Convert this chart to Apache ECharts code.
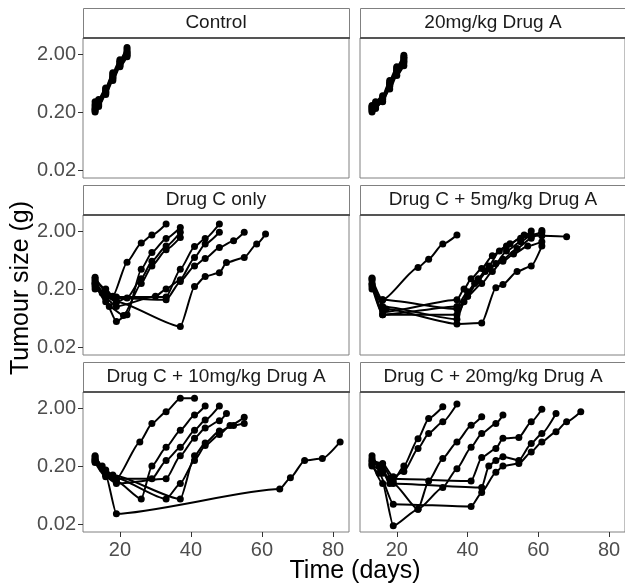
<!DOCTYPE html>
<html><head><meta charset="utf-8">
<script src="https://cdn.jsdelivr.net/npm/echarts@6/dist/echarts.min.js"></script>
<style>html,body{margin:0;padding:0;background:#fff}#c{width:625px;height:585px}</style>
</head><body><div id="c"></div>
<script>
// ---- data: each mouse = list of [day, tumour size (g)] ----
const panelTitles = ["Control", "20mg/kg Drug A", "Drug C only", "Drug C + 5mg/kg Drug A", "Drug C + 10mg/kg Drug A", "Drug C + 20mg/kg Drug A"];

const control = [
  [[13,0.21],[14,0.26],[16,0.42],[18,0.75],[20,1.3],[22,1.9]],
  [[13,0.23],[14,0.28],[16,0.45],[18,0.8],[20,1.4],[22,2.1]],
  [[13,0.25],[14,0.30],[16,0.48],[18,0.85],[20,1.5],[22,2.4]],
  [[13,0.27],[14,0.31],[16,0.50],[18,0.9],[20,1.45],[22,2.2]],
  [[13,0.20],[14,0.25],[16,0.40],[18,0.7],[20,1.2],[22,1.8]],
  [[13,0.30],[14,0.33],[16,0.52],[18,0.95],[20,1.6],[22,2.6]],
  [[13,0.22],[14,0.27],[16,0.44],[18,0.78],[20,1.25],[22,2.0]]
];

const drugA20 = [
  [[13,0.20],[14,0.24],[16,0.30],[18,0.55],[20,0.95],[22,1.4]],
  [[13,0.22],[14,0.25],[16,0.33],[18,0.60],[20,1.05],[22,1.6]],
  [[13,0.24],[14,0.28],[16,0.35],[18,0.65],[20,1.1],[22,1.75]],
  [[13,0.26],[14,0.30],[16,0.38],[18,0.70],[20,1.2],[22,1.9]],
  [[13,0.21],[14,0.23],[16,0.31],[18,0.50],[20,0.85],[22,1.25]],
  [[13,0.25],[14,0.27],[16,0.36],[18,0.62],[20,1.0],[22,1.5]],
  [[13,0.23],[14,0.26],[16,0.34],[18,0.58],[20,1.15],[22,1.7]]
];

const drugC = [
  [[13,0.30],[16,0.20],[18,0.15],[22,0.58],[26,1.24],[29,1.70],[33,2.65]],
  [[13,0.25],[16,0.12],[19,0.055],[22,0.072],[26,0.44],[29,0.85],[33,1.49],[37,2.3]],
  [[13,0.22],[16,0.15],[19,0.12],[22,0.14],[26,0.30],[29,0.60],[33,1.1],[37,1.9]],
  [[13,0.20],[15,0.17],[17,0.10],[21,0.07],[26,0.25],[29,0.50],[33,0.95],[37,1.55]],
  [[13,0.28],[16,0.15],[19,0.146],[33,0.146],[37,0.44],[41,1.08],[44,1.49],[48,2.65]],
  [[13,0.24],[16,0.14],[19,0.10],[30,0.15],[33,0.20],[37,0.29],[41,0.70],[44,1.19],[48,1.9]],
  [[13,0.26],[16,0.16],[19,0.14],[33,0.13],[37,0.27],[41,0.50],[44,0.67],[48,1.04],[52,1.36],[55,1.9]],
  [[13,0.32],[16,0.18],[19,0.12],[37,0.045],[41,0.22],[44,0.33],[48,0.38],[50,0.57],[55,0.70],[58.5,1.19],[61,1.77]]
];

const drugC5 = [
  [[13,0.30],[16,0.13],[26,0.47],[29,0.65],[33,1.19],[37,1.70]],
  [[13,0.28],[16,0.08],[37,0.13],[39,0.20],[41,0.30],[44,0.45],[47,0.75],[51,1.1],[55,1.5],[58,2.0]],
  [[13,0.25],[16,0.072],[37,0.10],[40,0.18],[43,0.30],[46,0.50],[49,0.90],[52,1.2],[56,1.7],[61,1.65],[68,1.6]],
  [[13,0.22],[16,0.072],[37,0.072],[40,0.15],[44,0.25],[47,0.40],[50,0.65],[54,1.0],[58,1.5],[61,2.05]],
  [[13,0.24],[17,0.09],[37,0.05],[44,0.052],[48,0.21],[50,0.24],[54,0.40],[58,0.50],[61,1.1]],
  [[13,0.31],[16,0.10],[37,0.06],[39,0.12],[42,0.25],[45,0.40],[48,0.55],[51,0.9],[55,1.3],[58,1.7],[61,1.9]],
  [[13,0.20],[16,0.13],[37,0.09],[40,0.15],[43,0.28],[46,0.45],[50,0.60],[53,0.8],[57,1.1],[61,1.3]]
];

const drugC10 = [
  [[13,0.29],[16,0.17],[19,0.12],[25.6,0.52],[29,1.08],[33,1.73],[37,2.95],[41,2.95]],
  [[13,0.27],[16,0.14],[19,0.11],[26,0.054],[29,0.20],[33,0.42],[37,0.83],[41,1.51],[44,2.17]],
  [[13,0.25],[16,0.15],[19,0.12],[29,0.12],[33,0.25],[37,0.42],[41,0.83],[44,1.24],[48,2.17]],
  [[13,0.23],[16,0.13],[19,0.10],[33,0.12],[37,0.30],[41,0.60],[44,0.90],[48,1.2],[50,1.61]],
  [[13,0.30],[15,0.20],[18,0.13],[33,0.054],[37,0.10],[41,0.25],[44,0.45],[48,0.70],[51,1.0],[55,1.38]],
  [[13,0.24],[15,0.18],[18,0.14],[37,0.054],[41,0.30],[44,0.50],[48,0.80],[52,1.0],[55,1.08]],
  [[13,0.26],[16,0.14],[19,0.030],[65,0.080],[68,0.125],[72,0.25],[77,0.27],[82,0.52]]
];

const drugC20 = [
  [[13,0.27],[16,0.20],[19,0.11],[22,0.20],[26,0.59],[29,1.32],[33,2.1]],
  [[13,0.25],[16,0.22],[19,0.13],[22,0.16],[26,0.40],[29,0.73],[33,1.16],[37,2.35]],
  [[13,0.22],[16,0.10],[19,0.0186],[26,0.036],[29,0.11],[33,0.27],[37,0.52],[41,1.01],[44,1.41]],
  [[13,0.30],[16,0.15],[19,0.10],[26,0.036],[33,0.085],[37,0.18],[41,0.42],[44,0.73],[48,1.08],[50,1.51]],
  [[13,0.24],[15,0.20],[18,0.12],[41,0.11],[44,0.28],[48,0.40],[50,0.60],[54.5,0.62],[58,1.16],[61,1.9]],
  [[13,0.21],[16,0.16],[18,0.10],[44,0.085],[46,0.20],[48,0.25],[50,0.29],[54.5,0.25],[58,0.49],[61,0.73],[65,1.61]],
  [[13,0.20],[15,0.15],[19,0.044],[41,0.040],[44,0.070],[48,0.156],[50,0.20],[54.5,0.22],[58,0.35],[61,0.52],[65,0.78],[68,1.16],[72,1.73]]
];

const yTickValues = [0.02, 0.2, 2];
const xTickValues = [20, 40, 60, 80];

// ---- layout ----
const panels = [control, drugA20, drugC, drugC5, drugC10, drugC20];
const colLeft = [83, 360], rowTop = [38, 215, 392], PW = 266, PH = 140, STRIP = 30;
const yMin = -1.837, yMax = 0.577, xMin = 9.6, xMax = 84.5;
const FONT = 'Liberation Sans, Arial, sans-serif';

const grid = [], xAxis = [], yAxis = [], series = [], graphic = [];
panels.forEach((mice, i) => {
  const col = i % 2, row = Math.floor(i / 2);
  const L = colLeft[col], T = rowTop[row];
  grid.push({left: L, top: T, width: PW, height: PH, show: true, borderColor: '#808080', borderWidth: 1, backgroundColor: '#fff'});
  xAxis.push({
    gridIndex: i, type: 'value', min: xMin, max: xMax, position: 'bottom',
    axisLine: {show: false, onZero: false}, splitLine: {show: false},
    axisTick: {show: row === 2, customValues: xTickValues, length: 5, lineStyle: {color: '#333', width: 1}},
    axisLabel: {show: row === 2, customValues: xTickValues, fontSize: 20, fontFamily: FONT, color: '#4d4d4d', margin: 8}
  });
  const yt = yTickValues.map(v => Math.log10(v));
  yAxis.push({
    gridIndex: i, type: 'value', min: yMin, max: yMax, position: 'left',
    axisLine: {show: false, onZero: false}, splitLine: {show: false},
    axisTick: {show: col === 0, customValues: yt, length: 5, lineStyle: {color: '#333', width: 1}},
    axisLabel: {show: col === 0, customValues: yt, fontSize: 20, fontFamily: FONT, color: '#4d4d4d', margin: 7,
      formatter: v => Math.pow(10, v).toFixed(2)}
  });
  mice.forEach(m => {
    series.push({
      type: 'line', xAxisIndex: i, yAxisIndex: i,
      data: m.map(p => [p[0], Math.log10(p[1])]),
      symbol: 'circle', symbolSize: 7, showSymbol: true,
      smooth: 0.2, smoothMonotone: 'x',
      lineStyle: {color: '#000', width: 2}, itemStyle: {color: '#000'},
      silent: true, animation: false
    });
  });
  graphic.push({type: 'rect', z: 100, shape: {x: L + 0.5, y: T - STRIP + 0.5, width: PW, height: STRIP},
    style: {fill: '#fff', stroke: '#808080', lineWidth: 1}});
  graphic.push({type: 'line', z: 101, shape: {x1: L, y1: T, x2: L + PW + 1, y2: T},
    style: {stroke: '#555', lineWidth: 2}});
  graphic.push({type: 'text', z: 102, style: {text: panelTitles[i], x: L + PW / 2, y: T - STRIP / 2,
    textAlign: 'center', textVerticalAlign: 'middle', font: '19px ' + FONT, fill: '#1a1a1a'}});
});
graphic.push({type: 'text', z: 102, x: 21, y: 288, rotation: Math.PI / 2,
  style: {text: 'Tumour size (g)', x: 0, y: 0, textAlign: 'center', textVerticalAlign: 'middle', font: '25px ' + FONT, fill: '#000'}});
graphic.push({type: 'text', z: 102, style: {text: 'Time (days)', x: 355, y: 571,
  textAlign: 'center', textVerticalAlign: 'middle', font: '25px ' + FONT, fill: '#000'}});

const chart = echarts.init(document.getElementById('c'), null, {renderer: 'canvas'});
chart.setOption({animation: false, backgroundColor: '#fff', grid, xAxis, yAxis, series, graphic});
</script></body></html>
